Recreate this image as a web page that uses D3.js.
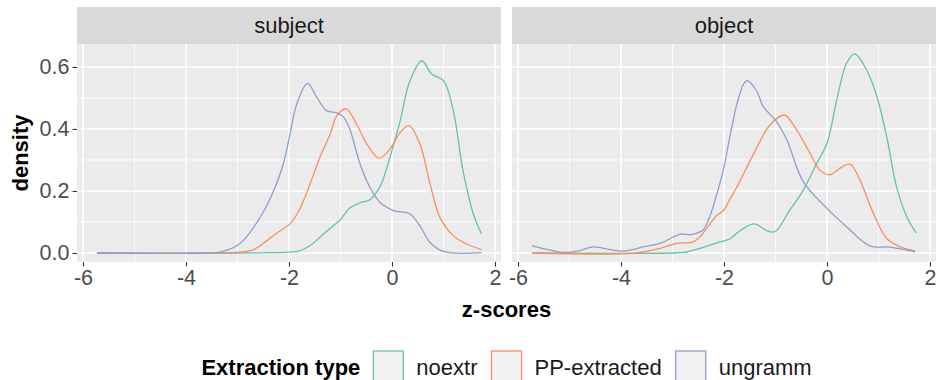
<!DOCTYPE html>
<html><head><meta charset="utf-8">
<script src="https://cdn.jsdelivr.net/npm/d3@7"></script>
<style>
body{margin:0;background:#fff}
text{font-family:"Liberation Sans",Arial,Helvetica,sans-serif}
</style>
</head><body>
<svg id="chart" width="946" height="380"></svg>
<script>
// ---------------- data ----------------
const panelNames = ["subject", "object"];
const seriesNames = ["noextr", "PP-extracted", "ungramm"];
const seriesColors = ["#66C2A5", "#FC8D62", "#8DA0CB"];
const xTickValues = [-6, -4, -2, 0, 2];
const xMinorValues = [-5, -3, -1, 1];
const yTickValues = [0, 0.2, 0.4, 0.6];
const yMinorValues = [0.1, 0.3, 0.5];

const subjectNoextr = [[-5.73,0],[-3.0,0],[-2.4,0.001],[-2.0,0.003],[-1.79,0.007],[-1.59,0.024],[-1.33,0.061],[-1.14,0.088],[-1.01,0.106],[-0.82,0.145],[-0.62,0.162],[-0.43,0.172],[-0.23,0.215],[-0.04,0.309],[0.16,0.427],[0.35,0.556],[0.58,0.62],[0.77,0.577],[1.0,0.556],[1.19,0.459],[1.38,0.265],[1.58,0.126],[1.74,0.061]];
const subjectPP = [[-5.73,0],[-3.4,0],[-2.95,0.003],[-2.69,0.011],[-2.43,0.04],[-2.17,0.072],[-1.98,0.094],[-1.79,0.142],[-1.59,0.223],[-1.40,0.309],[-1.20,0.384],[-1.07,0.443],[-0.89,0.465],[-0.69,0.416],[-0.49,0.352],[-0.25,0.306],[-0.04,0.335],[0.16,0.389],[0.33,0.411],[0.54,0.352],[0.74,0.223],[0.93,0.115],[1.19,0.056],[1.45,0.029],[1.74,0.011]];
const subjectUngramm = [[-5.73,0],[-3.6,0],[-3.34,0.003],[-2.95,0.031],[-2.56,0.115],[-2.30,0.20],[-2.11,0.287],[-1.98,0.384],[-1.85,0.48],[-1.64,0.547],[-1.46,0.502],[-1.27,0.459],[-1.07,0.452],[-0.94,0.438],[-0.82,0.40],[-0.62,0.287],[-0.43,0.212],[-0.23,0.163],[0.03,0.137],[0.35,0.126],[0.54,0.088],[0.74,0.034],[1.0,0.005],[1.74,0.001]];

const objectNoextr = [[-5.73,0],[-3.0,0],[-2.78,0.002],[-2.47,0.015],[-2.14,0.033],[-1.88,0.046],[-1.69,0.072],[-1.41,0.094],[-1.17,0.072],[-1.01,0.069],[-0.72,0.139],[-0.46,0.203],[-0.2,0.289],[0,0.354],[0.19,0.494],[0.38,0.612],[0.54,0.642],[0.77,0.59],[0.97,0.504],[1.16,0.375],[1.35,0.214],[1.55,0.117],[1.73,0.065]];
const objectPP = [[-5.73,0],[-3.7,0],[-3.24,0.015],[-2.92,0.031],[-2.60,0.036],[-2.47,0.052],[-2.27,0.094],[-2.14,0.122],[-2.01,0.137],[-1.88,0.175],[-1.75,0.213],[-1.43,0.318],[-1.11,0.412],[-0.83,0.445],[-0.59,0.397],[-0.33,0.322],[-0.14,0.268],[0.05,0.252],[0.25,0.273],[0.45,0.287],[0.64,0.235],[0.9,0.128],[1.16,0.047],[1.42,0.02],[1.71,0.007]];
const objectUngramm = [[-5.73,0.023],[-5.4,0.01],[-5.12,0.002],[-4.8,0.008],[-4.54,0.02],[-4.3,0.014],[-4.02,0.006],[-3.8,0.01],[-3.57,0.02],[-3.24,0.031],[-3.0,0.05],[-2.85,0.061],[-2.65,0.059],[-2.53,0.064],[-2.4,0.075],[-2.27,0.12],[-2.14,0.19],[-2.01,0.27],[-1.88,0.38],[-1.75,0.48],[-1.62,0.545],[-1.55,0.556],[-1.37,0.524],[-1.24,0.472],[-1.11,0.448],[-0.98,0.424],[-0.78,0.365],[-0.46,0.23],[0,0.144],[0.38,0.085],[0.83,0.023],[1.22,0.019],[1.71,0.004]];

const panelSeries = {
  subject: [subjectNoextr, subjectPP, subjectUngramm],
  object: [objectNoextr, objectPP, objectUngramm]
};

// ---------------- layout ----------------
const W = 946, H = 380;
const panelLeft = [77, 512];
const panelWidth = 424;
const stripTop = 7, panelTop = 44, panelBottom = 262;
const xDomain = [-6.117, 2.117];
const yDomain = [-0.029, 0.674];
const FS = 22, TFS = 21.5;
const FONT = '"Liberation Sans",Arial,sans-serif';

const svg = d3.select("#chart");
svg.append("rect").attr("width", W).attr("height", H).attr("fill", "#fff");

const y = d3.scaleLinear().domain(yDomain).range([panelBottom, panelTop]);

panelNames.forEach((name, pi) => {
  const x0 = panelLeft[pi];
  const x = d3.scaleLinear().domain(xDomain).range([x0, x0 + panelWidth]);
  const g = svg.append("g");

  g.append("rect").attr("x", x0).attr("y", stripTop).attr("width", panelWidth)
    .attr("height", panelTop - stripTop).attr("fill", "#D9D9D9");
  g.append("text").attr("x", x0 + panelWidth / 2).attr("y", 33)
    .attr("text-anchor", "middle").attr("font-size", FS).attr("fill", "#1A1A1A").text(name);

  g.append("rect").attr("x", x0).attr("y", panelTop).attr("width", panelWidth)
    .attr("height", panelBottom - panelTop).attr("fill", "#EBEBEB");

  g.selectAll(".ymin").data(yMinorValues).enter().append("line")
    .attr("x1", x0).attr("x2", x0 + panelWidth).attr("y1", d => y(d)).attr("y2", d => y(d))
    .attr("stroke", "#fff").attr("stroke-width", 0.8);
  g.selectAll(".xmin").data(xMinorValues).enter().append("line")
    .attr("y1", panelTop).attr("y2", panelBottom).attr("x1", d => x(d)).attr("x2", d => x(d))
    .attr("stroke", "#fff").attr("stroke-width", 0.8);
  g.selectAll(".ymaj").data(yTickValues).enter().append("line")
    .attr("x1", x0).attr("x2", x0 + panelWidth).attr("y1", d => y(d)).attr("y2", d => y(d))
    .attr("stroke", "#fff").attr("stroke-width", 1.6);
  g.selectAll(".xmaj").data(xTickValues).enter().append("line")
    .attr("y1", panelTop).attr("y2", panelBottom).attr("x1", d => x(d)).attr("x2", d => x(d))
    .attr("stroke", "#fff").attr("stroke-width", 1.6);

  const line = d3.line().x(d => x(d[0])).y(d => y(d[1])).curve(d3.curveCatmullRom.alpha(0.5));
  panelSeries[name].forEach((s, si) => {
    g.append("path").datum(s).attr("d", line).attr("fill", "none")
      .attr("stroke", seriesColors[si]).attr("stroke-width", 1.3);
  });

  const xa = g.append("g").attr("transform", `translate(0,${panelBottom})`)
    .call(d3.axisBottom(x).tickValues(xTickValues).tickFormat(d => String(d)).tickSize(4.5).tickPadding(3));
  xa.select(".domain").remove();
  xa.selectAll(".tick line").attr("stroke", "#333333").attr("stroke-width", 1.1);
  xa.selectAll(".tick text").attr("font-size", TFS).attr("fill", "#4D4D4D").attr("font-family", FONT);

  if (pi === 0) {
    const ya = g.append("g").attr("transform", `translate(${x0},0)`)
      .call(d3.axisLeft(y).tickValues(yTickValues).tickFormat(d3.format(".1f")).tickSize(4.5).tickPadding(3));
    ya.select(".domain").remove();
    ya.selectAll(".tick line").attr("stroke", "#333333").attr("stroke-width", 1.1);
    ya.selectAll(".tick text").attr("font-size", TFS).attr("fill", "#4D4D4D").attr("font-family", FONT);
  }
});

svg.append("text").attr("x", (panelLeft[0] + panelLeft[1] + panelWidth) / 2).attr("y", 317)
  .attr("text-anchor", "middle").attr("font-size", FS).attr("font-weight", "bold").text("z-scores");
svg.append("text").attr("transform", `translate(28,${(panelTop + panelBottom) / 2}) rotate(-90)`)
  .attr("text-anchor", "middle").attr("font-size", FS).attr("font-weight", "bold").text("density");

// legend
const leg = svg.append("g");
const legY = 375;
const title = leg.append("text").attr("x", 0).attr("y", legY).attr("font-size", FS)
  .attr("font-weight", "bold").text("Extraction type");
let cx = title.node().getComputedTextLength() + 13;
seriesNames.forEach((n, i) => {
  leg.append("rect").attr("x", cx).attr("y", 351).attr("width", 30).attr("height", 36)
    .attr("fill", "#F2F2F2").attr("stroke", seriesColors[i]).attr("stroke-width", 1.3);
  const t = leg.append("text").attr("x", cx + 43).attr("y", legY).attr("font-size", FS)
    .attr("fill", "#1A1A1A").text(n);
  cx += 43 + t.node().getComputedTextLength() + 14;
});
const legW = cx - 14;
leg.attr("transform", `translate(${(panelLeft[0] + panelLeft[1] + panelWidth) / 2 - legW / 2},0)`);
</script>
</body></html>
